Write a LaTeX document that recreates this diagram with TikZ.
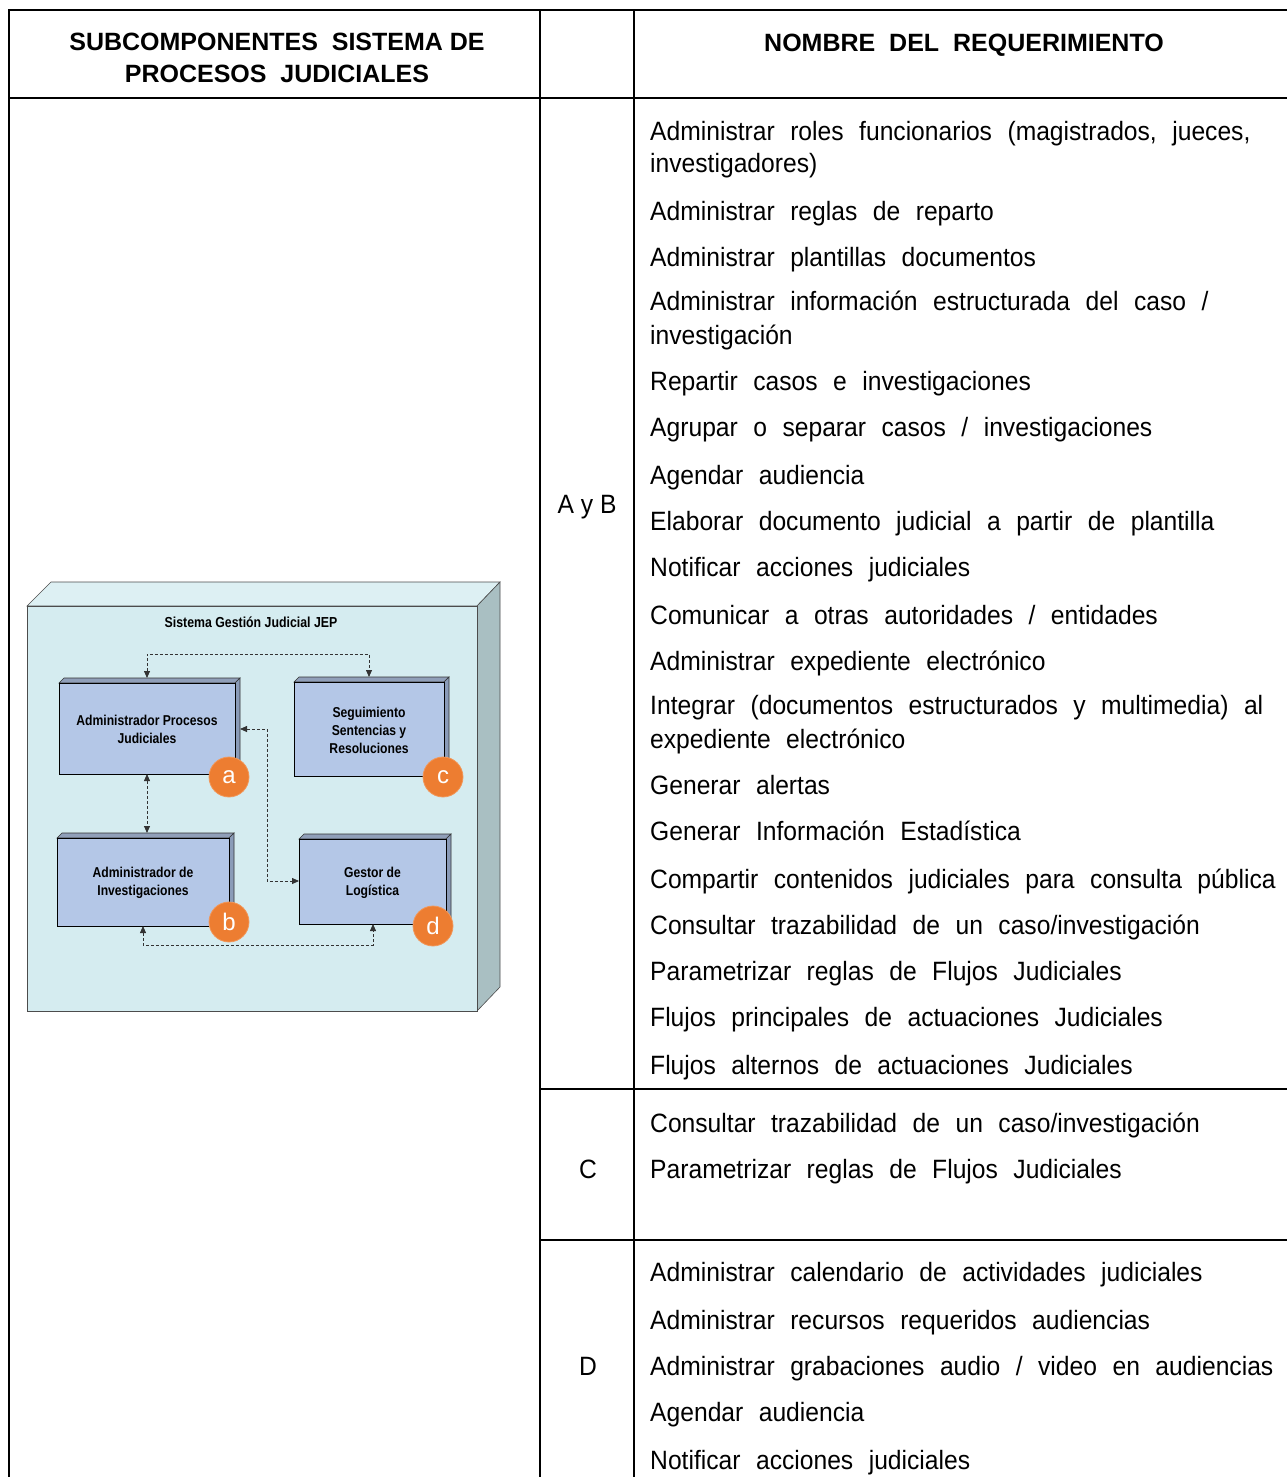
\documentclass[tikz,border=0pt]{standalone}
\usepackage{fontspec}
\setmainfont{Liberation Sans}
\newfontfamily\narrowfont[FakeStretch=0.85]{Liberation Sans}
\newfontfamily\reqfamily[FakeStretch=0.93]{Liberation Sans}
\usepackage{tikz}
\usetikzlibrary{arrows.meta,positioning,calc}
\definecolor{panelfront}{HTML}{D5ECF0}
\definecolor{panelside}{HTML}{A9BFC2}
\definecolor{boxfill}{HTML}{B4C7E7}
\definecolor{boxside}{HTML}{8A9BB8}
\definecolor{badge}{HTML}{ED7D31}
\newcommand{\reqfont}{\reqfamily\fontsize{26.5}{30}\selectfont\spaceskip=15.5pt plus 2pt\relax}

\begin{document}
\begin{tikzpicture}[
  x=1pt, y=-1pt,
  grid/.style={line width=2pt, line cap=rect},
  reqtxt/.style={anchor=base west, inner sep=0pt, font=\reqfont},
  hdr/.style={font=\bfseries\fontsize{25}{32}\selectfont, align=center},
  comp/.style={font=\narrowfont\bfseries\fontsize{14.3}{18}\selectfont, align=center},
  tag/.style={circle, fill=badge, draw=badge!80!white, line width=0.8pt,
              minimum size=40pt, inner sep=0pt, text=white,
              font=\fontsize{24}{24}\selectfont},
  link/.style={densely dashed, line width=0.8pt, black!80,
               {Triangle[length=7pt,width=6pt]}-{Triangle[length=7pt,width=6pt]}},
]
  \useasboundingbox (0,0) rectangle (1287,1477);

  % table grid
  \draw[grid] (1287,10) -- (9,10) -- (9,1477);
  \draw[grid] (9,98) -- (1287,98);
  \draw[grid] (540,10) -- (540,1477);
  \draw[grid] (634,10) -- (634,1477);
  \draw[grid] (540,1089) -- (1287,1089);
  \draw[grid] (540,1240) -- (1287,1240);

  % headers
  \node[hdr] (hsub) at (277,58) {SUBCOMPONENTES\ \ SISTEMA DE\\PROCESOS\ \ JUDICIALES};
  \node[hdr] (hreq) at (964,45) {NOMBRE\ \ DEL\ \ REQUERIMIENTO};

  % group labels
  \node[font=\reqfamily\fontsize{26.5}{30}\selectfont] (gab) at (587,507) {A y B};
  \node[font=\reqfamily\fontsize{26.5}{30}\selectfont] (gc) at (588,1169) {C};
  \node[font=\reqfamily\fontsize{26.5}{30}\selectfont] (gd) at (588,1366) {D};

  % requirement lines
  \foreach \yy/\txt [count=\i] in {
      140/{Administrar roles funcionarios (magistrados, jueces,},
      172/{investigadores)},
      220/{Administrar reglas de reparto},
      266/{Administrar plantillas documentos},
      310/{Administrar información estructurada del caso /},
      344/{investigación},
      390/{Repartir casos e investigaciones},
      436/{Agrupar o separar casos / investigaciones},
      484/{Agendar audiencia},
      530/{Elaborar documento judicial a partir de plantilla},
      576/{Notificar acciones judiciales},
      624/{Comunicar a otras autoridades / entidades},
      670/{Administrar expediente electrónico},
      714/{Integrar (documentos estructurados y multimedia) al},
      748/{expediente electrónico},
      794/{Generar alertas},
      840/{Generar Información Estadística},
      888/{Compartir contenidos judiciales para consulta pública},
      934/{Consultar trazabilidad de un caso/investigación},
      980/{Parametrizar reglas de Flujos Judiciales},
      1026/{Flujos principales de actuaciones Judiciales},
      1074/{Flujos alternos de actuaciones Judiciales},
      1132/{Consultar trazabilidad de un caso/investigación},
      1178/{Parametrizar reglas de Flujos Judiciales},
      1281/{Administrar calendario de actividades judiciales},
      1329/{Administrar recursos requeridos audiencias},
      1375/{Administrar grabaciones audio / video en audiencias},
      1421/{Agendar audiencia},
      1469/{Notificar acciones judiciales}} {
    \node[reqtxt] (req\i) at (650,\yy) {\txt};
  }

  % 3D panel of the system
  \fill[panelfront!80!white, draw=black!70, line width=0.6pt]
    (27,606) -- (51,582) -- (500,582) -- (477,606) -- cycle;
  \fill[panelside, draw=black!70, line width=0.6pt]
    (477,606) -- (500,582) -- (500,987) -- (477,1011) -- cycle;
  \draw[fill=panelfront, draw=black!70, line width=0.6pt] (27,606) rectangle (477,1011);
  \node[font=\narrowfont\bfseries\fontsize{14.5}{16}\selectfont] (title) at (251,622)
    {Sistema Gestión Judicial JEP};

  % components (front face + thin 3D edges)
  \foreach \nm/\xa/\ya/\xb/\yb in {a/59/683/235/774, c/294/682/444/776,
                                  b/57/838/229/926, d/299/839/446/924} {
    \fill[boxfill!80!black, draw=black!80, line width=0.6pt]
      (\xa,\ya) -- (\xa+5,\ya-5) -- (\xb+5,\ya-5) -- (\xb,\ya) -- cycle;
    \fill[boxside, draw=black!80, line width=0.6pt]
      (\xb,\ya) -- (\xb+5,\ya-5) -- (\xb+5,\yb-5) -- (\xb,\yb) -- cycle;
    \draw[fill=boxfill, line width=0.8pt] (\xa,\ya) rectangle (\xb,\yb);
    \coordinate (\nm-nw) at (\xa,\ya);
    \coordinate (\nm-se) at (\xb,\yb);
  }
  \node[comp] (ca) at ($(a-nw)!0.5!(a-se)+(0,1)$) {Administrador Procesos\\Judiciales};
  \node[comp] (cc) at ($(c-nw)!0.5!(c-se)+(0,1)$) {Seguimiento\\Sentencias y\\Resoluciones};
  \node[comp] (cb) at ($(b-nw)!0.5!(b-se)+(0,1)$) {Administrador de\\Investigaciones};
  \node[comp] (cd) at ($(d-nw)!0.5!(d-se)+(0,1)$) {Gestor de\\Logística};

  % connectors
  \coordinate (atop) at (147,678);
  \coordinate (ctop) at (369,677);
  \coordinate (abot) at (147,774);
  \coordinate (btop) at (147,833);
  \coordinate (aright) at (240,729);
  \coordinate (dleft) at (299,881);
  \coordinate (bbot) at (143,926);
  \coordinate (dbot) at (373,924);
  \draw[link] (atop) -- ++(0,-24) -| (ctop);
  \draw[link] (abot) -- (btop);
  \draw[link] (aright) -- (267,729) |- (dleft);
  \draw[link] (bbot) -- ++(0,19) -| (dbot);

  % badges
  \node[tag] (ta) at (229,777) {a};
  \node[tag] (tc) at (443,777) {c};
  \node[tag] (tb) at (229,922) {b};
  \node[tag] (td) at (433,926) {d};
\end{tikzpicture}
\end{document}
